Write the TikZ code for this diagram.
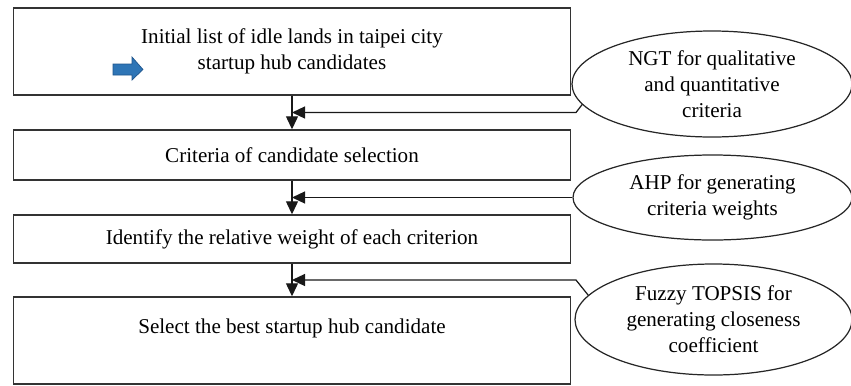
\documentclass[tikz,border=0pt]{standalone}
\usepackage{fontspec}
\setmainfont{Liberation Serif}
\usetikzlibrary{arrows.meta,shapes.geometric,calc}
\definecolor{hintblue}{RGB}{46,117,182}
\definecolor{hintedge}{RGB}{31,85,140}

\tikzset{
  stage/.style={draw=black!80, line width=0.8pt, minimum width=11.15cm, inner sep=0pt, align=center},
  tool/.style={ellipse, draw=black!85, line width=0.7pt, inner sep=0pt, align=center},
  flow/.style={draw=black!90, line width=0.7pt, -{Triangle[length=0.26cm,width=0.24cm]}},
  hint/.style={fill=hintblue, draw=hintedge, line width=0.4pt}
}

\begin{document}
\begin{tikzpicture}[font=\fontsize{12}{14.8}\selectfont]
\useasboundingbox (0,0) rectangle (17.02,-7.70);
\node [stage, minimum height=1.74cm] (init) at (5.84,-1.03) {Initial list of idle lands in taipei city\\startup hub candidates};
\node [stage, minimum height=1.00cm] (crit) at (5.84,-3.10) {Criteria of candidate selection};
\node [stage, minimum height=0.96cm] (weight) at (5.84,-4.78) {Identify the relative weight of each criterion};
\node [stage, minimum height=1.74cm, label={[yshift=0.25cm]center:Select the best startup hub candidate}] (best) at (5.84,-6.81) {};
\node [tool, minimum width=5.60cm, minimum height=2.12cm] (ngt) at (14.24,-1.68) {NGT for qualitative\\and quantitative\\criteria};
\node [tool, minimum width=5.58cm, minimum height=1.70cm] (ahp) at (14.25,-3.95) {AHP for generating\\criteria weights};
\node [tool, minimum width=5.54cm, minimum height=2.22cm] (fuzzy) at (14.27,-6.39) {Fuzzy TOPSIS for\\generating closeness\\coefficient};
\draw [hint] (2.26,-1.28) -- (2.64,-1.28) -- (2.64,-1.14) -- (2.86,-1.39) -- (2.64,-1.60) -- (2.64,-1.50) -- (2.26,-1.50) -- cycle;
\coordinate (j1) at ($(init.south)!0.5!(crit.north)$);
\coordinate (j2) at ($(crit.south)!0.5!(weight.north)$);
\coordinate (j3) at ($(weight.south)!0.5!(best.north)$);
\draw [flow] (init.south) -- (crit.north);
\draw [flow] (crit.south) -- (weight.north);
\draw [flow] (weight.south) -- (best.north);
\draw [flow] (ngt.189) -- ([xshift=5.68cm]j1) -- (j1);
\draw [flow] (ahp.west) -- (ahp.west -| j2);
\draw [flow] (fuzzy.169) -- ([xshift=5.68cm]j3) -- (j3);
\end{tikzpicture}
\end{document}
